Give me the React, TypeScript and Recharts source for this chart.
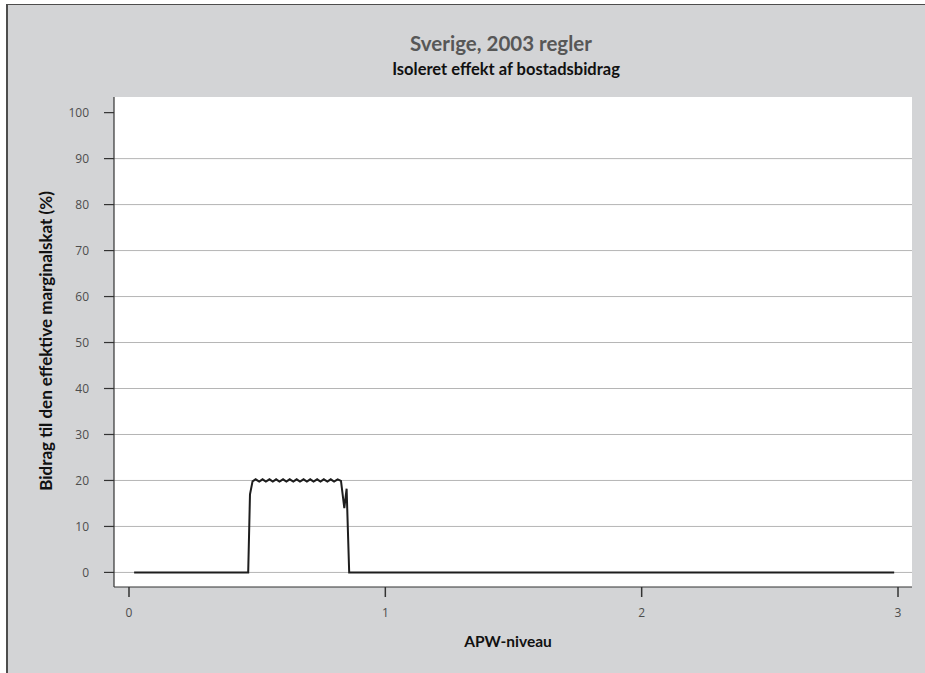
import React from "react";
import { LineChart, Line, XAxis, YAxis, CartesianGrid } from "recharts";

const chartTitle = "Sverige, 2003 regler";
const chartSubtitle = "Isoleret effekt af bostadsbidrag";
const xAxisTitle = "APW-niveau";
const yAxisTitle = "Bidrag til den effektive marginalskat (%)";

const apwLevels = [
  0.02, 0.465, 0.472, 0.482, 0.494, 0.508, 0.521, 0.534, 0.548, 0.561, 0.574,
  0.587, 0.601, 0.614, 0.627, 0.641, 0.654, 0.667, 0.681, 0.694, 0.707, 0.72,
  0.734, 0.747, 0.76, 0.774, 0.787, 0.8, 0.814, 0.827, 0.84, 0.849, 0.859, 2.985,
];
const marginalContribution = [
  0, 0, 17, 19.8, 20.25, 19.75, 20.25, 19.75, 20.25, 19.75, 20.25, 19.75,
  20.25, 19.75, 20.25, 19.75, 20.25, 19.75, 20.25, 19.75, 20.25, 19.75, 20.25,
  19.75, 20.25, 19.75, 20.25, 19.75, 20.25, 19.9, 14, 18.2, 0, 0,
];

const xTicks = [0, 1, 2, 3];
const yTicks = [0, 10, 20, 30, 40, 50, 60, 70, 80, 90, 100];
const gridValues = [0, 10, 20, 30, 40, 50, 60, 70, 80, 90];

const data = apwLevels.map((x, i) => ({ x, y: marginalContribution[i] }));

const W = 925;
const H = 673;
const FONT = "Lato, 'Open Sans', sans-serif";
const TICK_FONT = "'Open Sans', sans-serif";

export default function App() {
  return (
    <div style={{ position: "absolute", left: 0, top: 0, width: W, height: H, background: "#ffffff", fontFamily: FONT }}>
      <div
        style={{
          position: "absolute",
          left: 6,
          top: 4,
          width: W - 6,
          height: H - 4,
          background: "#d3d4d6",
          borderTop: "1px solid #4d4d4d",
          borderLeft: "2px solid #4d4d4d",
          boxSizing: "border-box",
        }}
      />
      <div style={{ position: "absolute", left: 0, top: 0 }}>
        <LineChart
          width={W}
          height={H}
          data={data}
          margin={{ top: 97, right: 13, bottom: 0, left: 0 }}
        >
          <CartesianGrid
            vertical={false}
            horizontalValues={gridValues}
            stroke="#b5b5b5"
            strokeWidth={1}
            fill="#ffffff"
            fillOpacity={1}
          />
          <XAxis
            dataKey="x"
            type="number"
            domain={[-0.0585, 3.0546]}
            ticks={xTicks}
            allowDataOverflow
            height={86}
            tickSize={10}
            tickMargin={11}
            axisLine={{ stroke: "#333333", strokeWidth: 1.2 }}
            tickLine={{ stroke: "#333333", strokeWidth: 1.5 }}
            tick={{ fill: "#4d4d4d", fontSize: 12, fontFamily: TICK_FONT }}
          />
          <YAxis
            type="number"
            domain={[-3.17, 103.4]}
            ticks={yTicks}
            allowDataOverflow
            width={114}
            tickSize={10}
            tickMargin={15}
            axisLine={{ stroke: "#333333", strokeWidth: 1.2 }}
            tickLine={{ stroke: "#333333", strokeWidth: 1.2 }}
            tick={{ fill: "#4d4d4d", fontSize: 12, fontFamily: TICK_FONT }}
          />
          <Line
            type="linear"
            dataKey="y"
            stroke="#1e1e1e"
            strokeWidth={2}
            dot={false}
            activeDot={false}
            isAnimationActive={false}
          />
        </LineChart>
      </div>
      <svg width={W} height={H} style={{ position: "absolute", left: 0, top: 0, pointerEvents: "none" }}>
        <text x={501} y={51} textAnchor="middle" fontFamily={FONT} fontWeight={700} fontSize={20.5} fill="#575757">
          {chartTitle}
        </text>
        <text x={506} y={75} textAnchor="middle" fontFamily={FONT} fontWeight={700} fontSize={16.5} fill="#111111">
          {chartSubtitle}
        </text>
        <text x={508} y={647} textAnchor="middle" fontFamily={FONT} fontWeight={700} fontSize={15.5} fill="#111111">
          {xAxisTitle}
        </text>
        <text
          x={52}
          y={341}
          textAnchor="middle"
          transform="rotate(-90, 52, 341)"
          fontFamily={FONT}
          fontWeight={700}
          fontSize={17}
          fill="#111111"
        >
          {yAxisTitle}
        </text>
      </svg>
    </div>
  );
}
